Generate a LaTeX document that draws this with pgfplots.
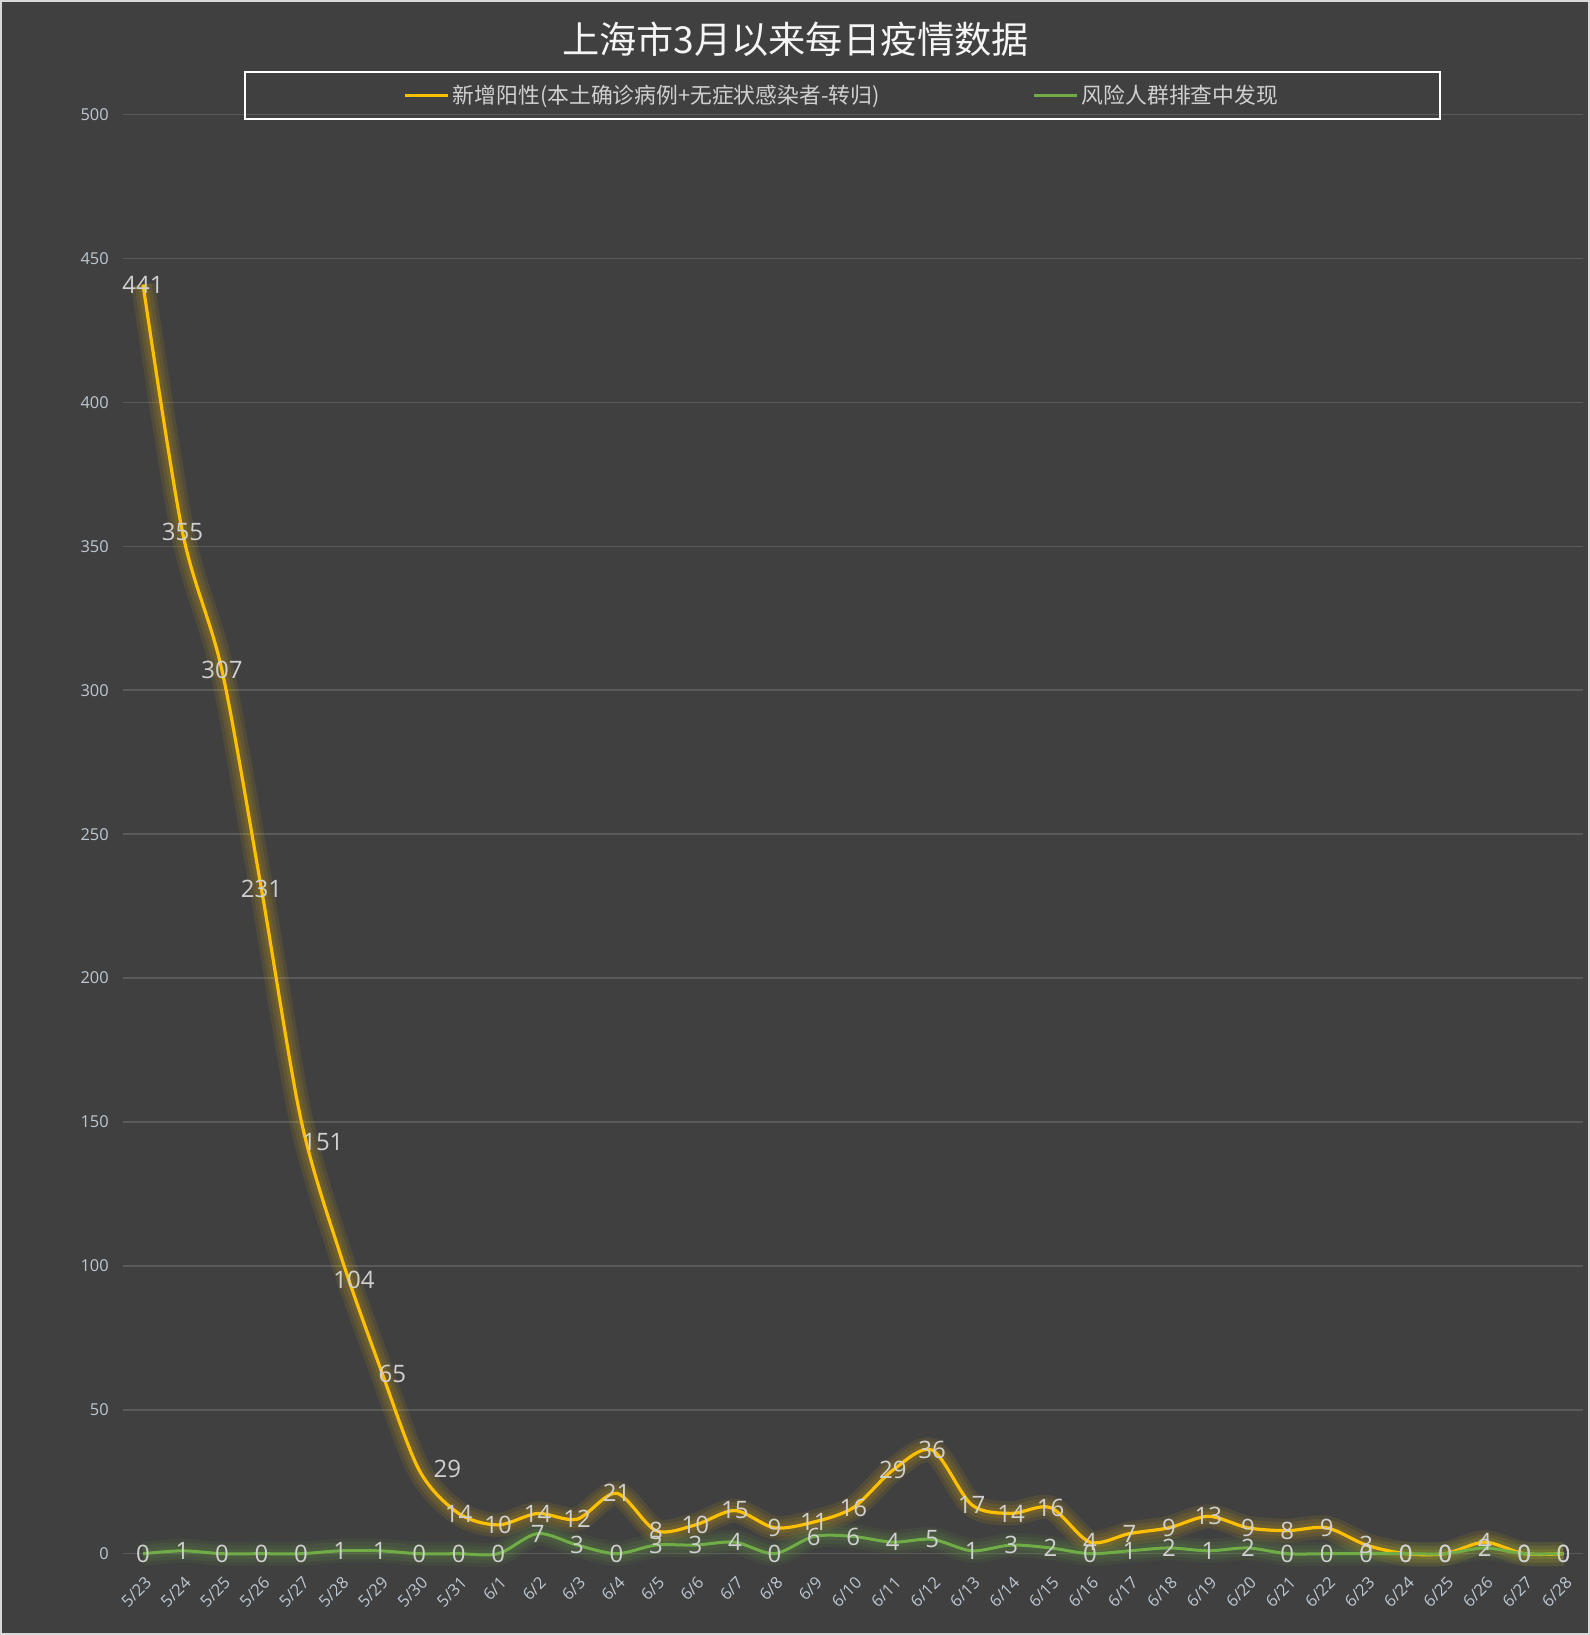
\documentclass[border=0pt]{standalone}
\usepackage{pgfplots}
\pgfplotsset{compat=1.18}
\usepackage{pgfplotstable}
\usepackage{fontspec}
\setmainfont{Open Sans}
\newfontfamily\cjk{Noto Sans CJK SC}
\definecolor{bg}{RGB}{64,64,64}
\definecolor{gridc}{RGB}{90,90,90}
\definecolor{ylw}{RGB}{255,192,0}
\definecolor{grn}{RGB}{112,173,71}
\definecolor{lbl}{RGB}{208,208,208}
\definecolor{tick}{RGB}{190,200,210}
\definecolor{frame}{RGB}{217,217,217}

\pgfplotstableread{
x y g lx ly
0 441 0 0 0
1 355 1 0 0
2 307 0 0 0
3 231 0 0 0
4 151 0 11 -11.5
5 104 1 6.8 -13
6 65 1 6.3 -3.6
7 29 0 14 0.5
8 14 0 0 0
9 10 0 0 0
10 14 7 0 0
11 12 3 0 0
12 21 0 0 0
13 8 3 0 0
14 10 3 0 0
15 15 4 0 0
16 9 0 0 0
17 11 6 0 0
18 16 6 0 0
19 29 4 0 0
20 36 5 0 0
21 17 1 0 0
22 14 3 0 0
23 16 2 0 0
24 4 0 0 0
25 7 1 0 0
26 9 2 0 0
27 13 1 0 0
28 9 2 0 0
29 8 0 0 0
30 9 0 0 0
31 3 0 0 0
32 0 0 0 0
33 0 0 0 0
34 4 2 0 0
35 0 0 0 0
36 0 0 0 0
}\data

\begin{document}
\begin{tikzpicture}
\fill[bg] (0,0) rectangle (795pt,817.5pt);
\draw[frame, line width=1.2pt] (0.6pt,0.6pt) rectangle (794.4pt,816.9pt);
\node[text=white!92!gray, font=\cjk\fontsize{18.6}{20}\selectfont] at (397.8pt,797.7pt) {上海市3月以来每日疫情数据};
\begin{axis}[
  at={(61.65pt,40.65pt)}, anchor=south west,
  scale only axis, width=730pt, height=719.5pt,
  xmin=-0.5, xmax=36.5, ymin=0, ymax=500,
  clip=false,
  axis line style={draw=none},
  major tick length=0pt,
  ytick={0,50,...,500},
  ymajorgrids, grid style={gridc, line width=0.8pt},
  xtick={0,...,36},
  xticklabels={5/23,5/24,5/25,5/26,5/27,5/28,5/29,5/30,5/31,6/1,6/2,6/3,6/4,6/5,6/6,6/7,6/8,6/9,6/10,6/11,6/12,6/13,6/14,6/15,6/16,6/17,6/18,6/19,6/20,6/21,6/22,6/23,6/24,6/25,6/26,6/27,6/28},
  /pgf/number format/assume math mode=true,
  ticklabel style={text=tick, font=\fontsize{8.2}{9}\selectfont},
  yticklabel style={xshift=-3.8pt},
  xticklabel style={yshift=-8pt, xshift=0.5pt, rotate=45, anchor=north east, inner sep=2pt},
  legend columns=2,
  legend style={at={(0.4925,1.0306)}, anchor=north, draw=white, line width=1pt, fill=none,
    inner xsep=79.5pt, inner ysep=6.5pt,
    font=\cjk\fontsize{10.9}{12}\selectfont, text=lbl,
    nodes={inner xsep=1.5pt, inner ysep=0pt},
    /tikz/every even column/.append style={column sep=75pt}},
  legend image code/.code={\draw[line width=1.6pt] (0pt,0pt) -- (21.5pt,0pt);},
  nodes near coords align=center,
]
% glows
\addplot[forget plot, smooth, ylw, opacity=0.09, line width=12pt] table[x=x,y=y]{\data};
\addplot[forget plot, smooth, ylw, opacity=0.09, line width=8.5pt] table[x=x,y=y]{\data};
\addplot[forget plot, smooth, ylw, opacity=0.10, line width=5pt] table[x=x,y=y]{\data};
\addplot[forget plot, smooth, grn, opacity=0.09, line width=12pt] table[x=x,y=g]{\data};
\addplot[forget plot, smooth, grn, opacity=0.09, line width=8.5pt] table[x=x,y=g]{\data};
\addplot[forget plot, smooth, grn, opacity=0.10, line width=5pt] table[x=x,y=g]{\data};
% lines
\addplot[smooth, ylw, line width=1.6pt] table[x=x,y=y]{\data};
\addlegendentry{新增阳性(本土确诊病例+无症状感染者-转归)}
\addplot[smooth, grn, line width=1.5pt] table[x=x,y=g]{\data};
\addlegendentry{风险人群排查中发现}
% labels
\addplot[forget plot, draw=none, nodes near coords,
  visualization depends on={\thisrow{lx}\as\lx},
  visualization depends on={\thisrow{ly}\as\ly},
  every node near coord/.append style={text=lbl, font=\fontsize{12}{12}\selectfont, inner sep=0pt, xshift=\lx pt, yshift=\ly pt}] table[x=x,y=y]{\data};
\addplot[forget plot, draw=none, nodes near coords, every node near coord/.append style={text=lbl, font=\fontsize{12}{12}\selectfont, inner sep=0pt}] table[x=x,y=g]{\data};
\end{axis}
\end{tikzpicture}
\end{document}
